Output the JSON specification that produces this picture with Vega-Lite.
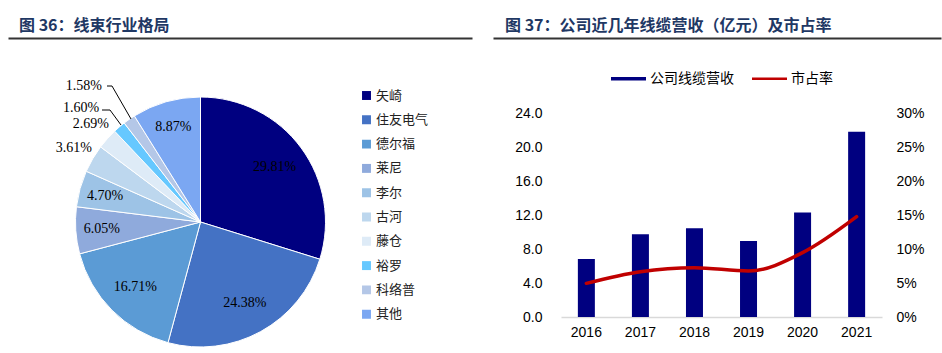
{
  "$schema": "https://vega.github.io/schema/vega-lite/v6.json",
  "background": "white",
  "padding": {"left": 8, "top": 18, "right": 0, "bottom": 0},
  "bounds": "flush",
  "columns": 2,
  "spacing": {"row": 75, "column": 89},
  "resolve": {"scale": {"color": "independent"}, "legend": {"color": "independent"}},
  "config": {"view": {"stroke": null}, "font": "Noto Sans CJK SC"},
  "concat": [
    {
      "width": 464,
      "height": 1,
      "data": {"values": [{"k": 0}]},
      "title": {"text": "图 36：线束行业格局", "anchor": "start", "frame": "group", "dx": 11, "offset": 3, "fontSize": 16, "fontWeight": "bold", "color": "#1F3864", "font": "Noto Sans CJK SC"},
      "mark": {"type": "point", "opacity": 0, "size": 0},
      "encoding": {
        "x": {"datum": 0.5, "type": "quantitative", "scale": {"domain": [0, 1], "range": [0, 464]},
          "axis": {"orient": "bottom", "labels": false, "ticks": false, "grid": false, "title": null, "domainColor": "#333333", "domainWidth": 2}}
      }
    },
    {
      "width": 321,
      "height": 1,
      "data": {"values": [{"k": 0}]},
      "title": {"text": "图 37：公司近几年线缆营收（亿元）及市占率", "anchor": "start", "frame": "group", "dx": -56, "offset": 3, "fontSize": 16, "fontWeight": "bold", "color": "#1F3864", "font": "Noto Sans CJK SC"},
      "mark": {"type": "point", "opacity": 0, "size": 0},
      "encoding": {
        "x": {"datum": 0.5, "type": "quantitative", "scale": {"domain": [0, 1], "range": [-68, 380]},
          "axis": {"orient": "bottom", "labels": false, "ticks": false, "grid": false, "title": null, "domainColor": "#333333", "domainWidth": 2}}
      }
    },
    {
      "width": 385,
      "height": 218,
      "layer": [
        {
          "data": {"name": "pie", "values": [
            {"name": "矢崎", "share": 0.2981, "rank": 1},
            {"name": "住友电气", "share": 0.2438, "rank": 2},
            {"name": "德尔福", "share": 0.1671, "rank": 3},
            {"name": "莱尼", "share": 0.0605, "rank": 4},
            {"name": "李尔", "share": 0.0470, "rank": 5},
            {"name": "古河", "share": 0.0361, "rank": 6},
            {"name": "藤仓", "share": 0.0269, "rank": 7},
            {"name": "裕罗", "share": 0.0160, "rank": 8},
            {"name": "科络普", "share": 0.0158, "rank": 9},
            {"name": "其他", "share": 0.0887, "rank": 10}
          ]},
          "layer": [
            {
              "mark": {"type": "arc", "radius": 125, "stroke": "white", "strokeWidth": 1},
              "encoding": {
                "theta": {"field": "share", "type": "quantitative", "stack": true},
                "order": {"field": "rank", "type": "quantitative"},
                "color": {"field": "name", "type": "nominal",
                  "sort": ["矢崎", "住友电气", "德尔福", "莱尼", "李尔", "古河", "藤仓", "裕罗", "科络普", "其他"],
                  "scale": {"domain": ["矢崎", "住友电气", "德尔福", "莱尼", "李尔", "古河", "藤仓", "裕罗", "科络普", "其他"],
                    "range": ["#000080", "#4472C4", "#5B9BD5", "#8FAADC", "#9DC3E6", "#BDD7EE", "#DEEBF7", "#66C8FF", "#B4C7E7", "#7BA7F2"]},
                  "legend": {"orient": "none", "direction": "vertical", "legendX": 352, "legendY": -25, "title": null,
                    "symbolType": "square", "symbolSize": 80, "symbolStrokeWidth": 0,
                    "labelFont": "Noto Sans CJK SC", "labelFontSize": 13, "labelColor": "#222222",
                    "rowPadding": 9.3, "labelOffset": 3, "padding": 0, "clipHeight": 15}}
              }
            },
            {
              "mark": {"type": "text", "radius": 92, "font": "Liberation Serif", "fontSize": 14, "color": "#000000"},
              "encoding": {
                "theta": {"field": "share", "type": "quantitative", "stack": true},
                "order": {"field": "rank", "type": "quantitative"},
                "detail": {"field": "name", "type": "nominal"},
                "text": {"condition": {"test": "datum.share >= 0.1", "field": "share", "type": "quantitative", "format": ".2%"}, "value": ""}
              }
            },
            {
              "mark": {"type": "text", "radius": 99, "font": "Liberation Serif", "fontSize": 14, "color": "#000000"},
              "encoding": {
                "theta": {"field": "share", "type": "quantitative", "stack": true},
                "order": {"field": "rank", "type": "quantitative"},
                "detail": {"field": "name", "type": "nominal"},
                "text": {"condition": {"test": "datum.share >= 0.04 && datum.share < 0.1", "field": "share", "type": "quantitative", "format": ".2%"}, "value": ""}
              }
            },
            {
              "mark": {"type": "text", "radius": 147, "font": "Liberation Serif", "fontSize": 14, "color": "#000000"},
              "encoding": {
                "theta": {"field": "share", "type": "quantitative", "stack": true},
                "order": {"field": "rank", "type": "quantitative"},
                "detail": {"field": "name", "type": "nominal"},
                "text": {"condition": {"test": "datum.share >= 0.02 && datum.share < 0.04", "field": "share", "type": "quantitative", "format": ".2%"}, "value": ""}
              }
            },
            {
              "mark": {"type": "text", "radius": 150, "dx": -22, "font": "Liberation Serif", "fontSize": 14, "color": "#000000"},
              "encoding": {
                "theta": {"field": "share", "type": "quantitative", "stack": true},
                "order": {"field": "rank", "type": "quantitative"},
                "detail": {"field": "name", "type": "nominal"},
                "text": {"condition": {"test": "datum.name === '裕罗'", "field": "share", "type": "quantitative", "format": ".2%"}, "value": ""}
              }
            },
            {
              "mark": {"type": "text", "radius": 166, "dx": -22, "font": "Liberation Serif", "fontSize": 14, "color": "#000000"},
              "encoding": {
                "theta": {"field": "share", "type": "quantitative", "stack": true},
                "order": {"field": "rank", "type": "quantitative"},
                "detail": {"field": "name", "type": "nominal"},
                "text": {"condition": {"test": "datum.name === '科络普'", "field": "share", "type": "quantitative", "format": ".2%"}, "value": ""}
              }
            }
          ]
        },
        {
          "data": {"values": [
            {"id": "科络普", "step": 1, "u": -0.748, "v": 1.088},
            {"id": "科络普", "step": 2, "u": -0.708, "v": 1.088},
            {"id": "科络普", "step": 3, "u": -0.556, "v": 0.824},
            {"id": "裕罗", "step": 1, "u": -0.788, "v": 0.896},
            {"id": "裕罗", "step": 2, "u": -0.724, "v": 0.896},
            {"id": "裕罗", "step": 3, "u": -0.636, "v": 0.776}
          ]},
          "mark": {"type": "line", "color": "#000000", "strokeWidth": 1},
          "encoding": {
            "x": {"field": "u", "type": "quantitative", "scale": {"domain": [-1.54, 1.54], "zero": false, "nice": false}, "axis": null},
            "y": {"field": "v", "type": "quantitative", "scale": {"domain": [-0.872, 0.872], "zero": false, "nice": false}, "axis": null},
            "detail": {"field": "id", "type": "nominal"},
            "order": {"field": "step", "type": "quantitative"}
          }
        }
      ]
    },
    {
      "width": 321,
      "height": 204,
      "data": {"values": [
        {"year": "2016", "revenue": 6.82, "share": 0.0495},
        {"year": "2017", "revenue": 9.73, "share": 0.0666},
        {"year": "2018", "revenue": 10.43, "share": 0.0725},
        {"year": "2019", "revenue": 8.94, "share": 0.0676},
        {"year": "2020", "revenue": 12.3, "share": 0.0946},
        {"year": "2021", "revenue": 21.8, "share": 0.1475}
      ]},
      "encoding": {
        "x": {"field": "year", "type": "ordinal", "scale": {"paddingInner": 0.6855, "paddingOuter": 0.312},
          "axis": {"labelAngle": 0, "ticks": false, "domainColor": "#D9D9D9", "domainWidth": 1.5, "labelFont": "Liberation Sans", "labelFontSize": 14, "labelColor": "#000000", "labelPadding": 8, "title": null, "grid": false}}
      },
      "layer": [
        {
          "mark": {"type": "bar"},
          "encoding": {
            "y": {"field": "revenue", "type": "quantitative", "scale": {"domain": [0, 24], "nice": false},
              "axis": {"values": [0, 4, 8, 12, 16, 20, 24], "format": ".1f", "domain": false, "ticks": false, "grid": false, "labelPadding": 19, "title": null, "labelFont": "Liberation Sans", "labelFontSize": 14, "labelColor": "#000000"}},
            "color": {"datum": "公司线缆营收", "type": "nominal",
              "scale": {"domain": ["公司线缆营收", "市占率"], "range": ["#000080", "#C00000"]},
              "legend": {"orient": "none", "direction": "horizontal", "legendX": 50, "legendY": -52, "title": null,
                "symbolType": "M-1,-0.09H1V0.09H-1Z", "symbolSize": 1225, "symbolStrokeWidth": 0,
                "labelFont": "Noto Sans CJK SC", "labelFontSize": 14, "labelColor": "#000000",
                "labelOffset": 4, "columnPadding": 18, "padding": 0,
                "encode": {"symbols": {"update": {
                  "fill": {"scale": "color", "field": "value"},
                  "stroke": {"value": "transparent"},
                  "strokeWidth": {"value": 0},
                  "size": {"value": 1225},
                  "shape": {"signal": "datum.value === '市占率' ? 'M-1,-0.065H1V0.065H-1Z' : 'M-1,-0.1H1V0.1H-1Z'"}}}}}}
          }
        },
        {
          "mark": {"type": "line", "strokeWidth": 3.5, "interpolate": "monotone", "strokeCap": "round"},
          "encoding": {
            "y": {"field": "share", "type": "quantitative", "scale": {"domain": [0, 0.3], "nice": false},
              "axis": {"orient": "right", "values": [0, 0.05, 0.1, 0.15, 0.2, 0.25, 0.3], "format": ".0%", "domain": false, "ticks": false, "grid": false, "labelPadding": 14, "title": null, "labelFont": "Liberation Sans", "labelFontSize": 14, "labelColor": "#000000"}},
            "color": {"datum": "市占率", "type": "nominal"}
          }
        }
      ],
      "resolve": {"scale": {"y": "independent"}}
    }
  ]
}
